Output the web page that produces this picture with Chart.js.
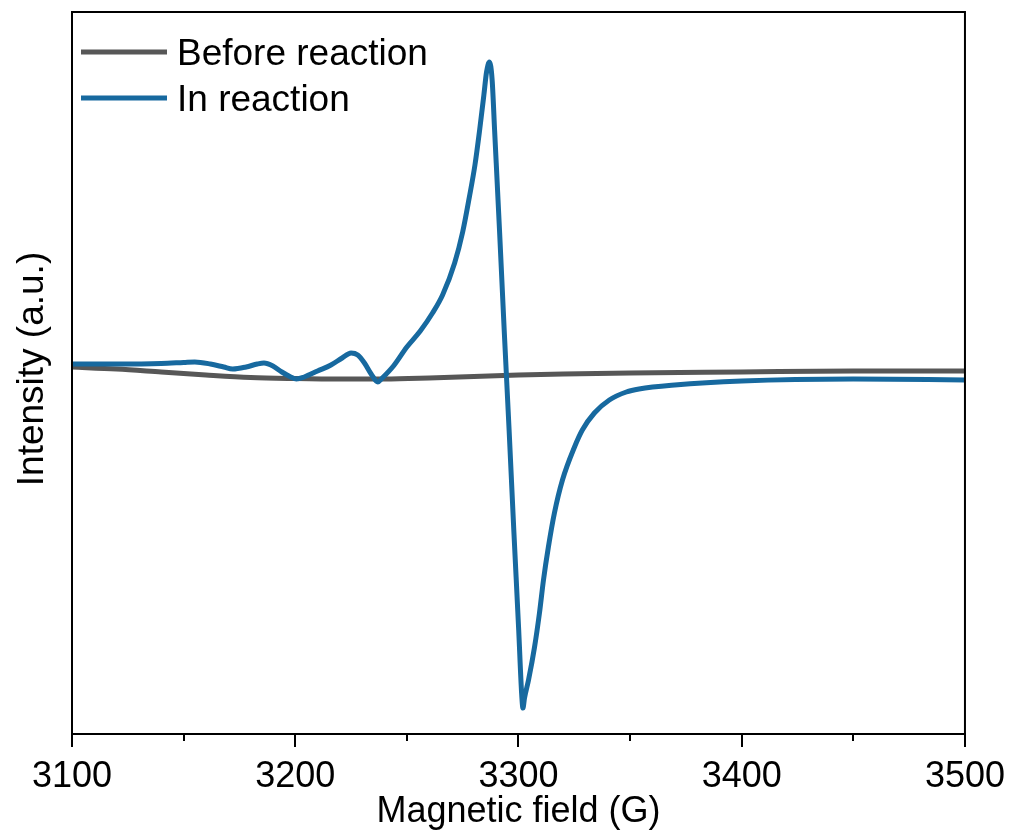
<!DOCTYPE html>
<html>
<head>
<meta charset="utf-8">
<script src="https://cdn.jsdelivr.net/npm/chart.js@4"></script>
<style>
  body { margin: 0; background: #fff; }
  #wrap { width: 1013px; height: 834px; position: relative; }
</style>
</head>
<body>
<div id="wrap"><canvas id="epr-chart"></canvas></div>
<script>
// magnetic field (G) and intensity (a.u.)
var beforeField = [3100, 3120, 3140, 3160, 3180, 3200, 3220, 3240, 3260, 3280, 3300, 3320, 3350, 3400, 3450, 3500];
var beforeIntensity = [1, -1, -4, -7, -9.5, -10.5, -11, -11, -10, -8.5, -7, -6, -5, -4, -3, -3];

var inField = [3100, 3120, 3140, 3150, 3155, 3162, 3168, 3172, 3178, 3183, 3186, 3190, 3194, 3198, 3200.5,
  3204, 3210, 3216, 3221, 3225, 3228, 3231, 3234, 3237, 3239, 3244, 3250, 3256, 3261.5, 3266, 3271.4,
  3275, 3278, 3280.5, 3282.6, 3284.5, 3285.7, 3287, 3288.2, 3289.3, 3291.5, 3293.6, 3295.8, 3297.9,
  3300.1, 3301.4, 3302, 3302.7, 3304.5, 3307.2, 3309.4, 3311.2, 3313.4, 3316.1, 3319.7, 3325.1, 3328.6,
  3334, 3340.7, 3348.3, 3354, 3370, 3400, 3450, 3500];
var inIntensity = [4, 4, 4.5, 5.5, 6, 4, 1, -1, 1, 4, 5, 2, -4, -9, -11,
  -9, -3, 3, 10, 15, 13, 5, -6, -14, -10, 2, 21, 37, 55, 73, 105,
  136, 171, 203, 238, 273, 296, 306, 288, 238, 138, 38, -62, -162,
  -262, -325, -340, -330, -312, -279, -245, -212, -179, -145, -112, -79, -62,
  -45, -32, -24, -21, -17, -13, -11, -12];

var xTicks = [3100, 3200, 3300, 3400, 3500];
var xMinorTicks = [3150, 3250, 3350, 3450];

var seriesNames = ["Before reaction", "In reaction"];
var seriesColors = ["#575757", "#17699f"];
var yTitle = "Intensity (a.u.)";

function toPoints(xs, ys) {
  return xs.map(function (x, i) { return { x: x, y: ys[i] }; });
}

var fontFamily = "'Liberation Sans', Arial, sans-serif";

// frame, minor ticks, y title and in-plot legend
var framePlugin = {
  id: "frame",
  afterDraw: function (chart) {
    var ctx = chart.ctx;
    var a = chart.chartArea;
    var xs = chart.scales.x;
    ctx.save();
    ctx.strokeStyle = "#000";
    ctx.lineWidth = 2;
    ctx.strokeRect(a.left, a.top, a.right - a.left, a.bottom - a.top);
    xMinorTicks.forEach(function (v) {
      var px = Math.round(xs.getPixelForValue(v));
      ctx.beginPath();
      ctx.moveTo(px, a.bottom);
      ctx.lineTo(px, a.bottom + 7);
      ctx.stroke();
    });

    ctx.fillStyle = "#000";
    ctx.save();
    ctx.translate(43, 369);
    ctx.rotate(-Math.PI / 2);
    ctx.font = "37px " + fontFamily;
    ctx.textAlign = "center";
    ctx.textBaseline = "alphabetic";
    ctx.fillText(yTitle, 0, 0);
    ctx.restore();

    ctx.font = "37px " + fontFamily;
    ctx.textBaseline = "alphabetic";
    var rows = [52, 98];
    chart.data.datasets.forEach(function (ds, i) {
      ctx.strokeStyle = ds.borderColor;
      ctx.lineWidth = 5;
      ctx.beginPath();
      ctx.moveTo(81, rows[i]);
      ctx.lineTo(167, rows[i]);
      ctx.stroke();
      ctx.fillText(ds.label, 177, rows[i] + 13);
    });
    ctx.restore();
  }
};

new Chart(document.getElementById("epr-chart").getContext("2d"), {
  type: "line",
  data: {
    datasets: [
      {
        label: seriesNames[0],
        data: toPoints(beforeField, beforeIntensity),
        borderColor: seriesColors[0],
        borderWidth: 5,
        pointRadius: 0,
        cubicInterpolationMode: "monotone",
        fill: false,
        order: 1,
      },
      {
        label: seriesNames[1],
        data: toPoints(inField, inIntensity),
        borderColor: seriesColors[1],
        borderWidth: 5,
        pointRadius: 0,
        cubicInterpolationMode: "monotone",
        fill: false,
        order: 0,
      },
    ],
  },
  options: {
    responsive: true,
    maintainAspectRatio: false,
    animation: false,
    layout: { padding: { top: 12, right: 47, left: 0, bottom: 0 } },
    plugins: {
      legend: { display: false },
      tooltip: { enabled: false },
    },
    scales: {
      x: {
        type: "linear",
        min: 3100,
        max: 3500,
        afterBuildTicks: function (scale) {
          scale.ticks = xTicks.map(function (v) { return { value: v }; });
        },
        afterFit: function (scale) { scale.height = 100; },
        grid: { drawOnChartArea: false, drawTicks: true, tickLength: 13, color: "#000", lineWidth: 2 },
        border: { color: "#000", width: 2 },
        ticks: {
          color: "#000",
          font: { family: fontFamily, size: 36 },
          padding: 8,
          maxRotation: 0,
          callback: function (v) { return String(v); },
        },
        title: {
          display: true,
          text: "Magnetic field (G)",
          color: "#000",
          font: { family: fontFamily, size: 36 },
          padding: { top: 0, bottom: 0 },
        },
      },
      y: {
        min: -366,
        max: 356,
        afterFit: function (scale) { scale.width = 72; },
        grid: { display: false },
        border: { color: "#000", width: 2 },
        ticks: { display: false },
        title: { display: false },
      },
    },
  },
  plugins: [framePlugin],
});
</script>
</body>
</html>
